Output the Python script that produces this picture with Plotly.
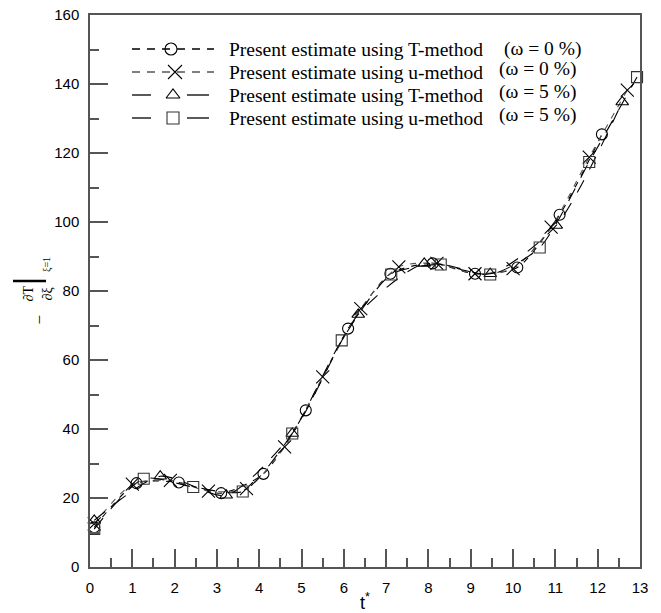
import plotly.graph_objects as go

# ---------------- data ----------------
t_T0 = [0.1, 1.1, 2.1, 3.1, 4.1, 5.1, 6.1, 7.1, 8.1, 9.1, 10.1, 11.1, 12.1]
v_T0 = [11.5, 24.3, 24.5, 21.4, 27.0, 45.4, 69.1, 85.0, 88.0, 85.0, 86.8, 102.1, 125.4]

t_u0 = [0.1, 1.0, 1.9, 2.8, 3.7, 4.6, 5.5, 6.4, 7.3, 8.2, 9.1, 10.0, 10.9, 11.8, 12.7]
v_u0 = [12.5, 24.0, 25.1, 22.0, 22.7, 34.8, 55.1, 74.9, 87.0, 88.0, 85.0, 86.5, 98.5, 118.8, 138.2]

t_T5 = [0.1, 1.66, 3.22, 4.78, 6.34, 7.9, 9.46, 11.02, 12.58]
v_T5 = [13.5, 26.3, 20.8, 38.7, 73.2, 88.0, 85.0, 99.0, 134.8]

t_u5 = [0.1, 1.27, 2.44, 3.61, 4.78, 5.95, 7.12, 8.29, 9.46, 10.63, 11.8, 12.93]
v_u5 = [11.0, 25.6, 23.2, 21.9, 38.7, 65.7, 84.8, 87.7, 84.8, 92.6, 117.4, 142.0]

legend_main = ["Present estimate using T-method", "Present estimate using u-method",
               "Present estimate using T-method", "Present estimate using u-method"]
legend_omega = ["(ω = 0 %)", "(ω = 0 %)", "(ω = 5 %)", "(ω = 5 %)"]

x_ticks = list(range(0, 14))
y_ticks = list(range(0, 161, 20))

# ---------------- layout geometry (pixels) ----------------
W, H = 661, 613
L, R, T, B = 90, 21, 15, 46
PW, PH = W - L - R, H - T - B


def px(xp):
    return (xp - L) / PW


def py(yp):
    return (H - B - yp) / PH


serif = "Liberation Serif, Times New Roman, serif"
sans = "Liberation Sans, Arial, sans-serif"

series = [
    dict(t=t_T0, v=v_T0, sym="circle-open", size=11, color="black", lc="black", dash="6px,7px"),
    dict(t=t_u0, v=v_u0, sym="x-thin-open", size=13, color="black", lc="#555555", dash="6px,7px"),
    dict(t=t_T5, v=v_T5, sym="triangle-up-open", size=11, color="black", lc="black", dash="14px,12px"),
    dict(t=t_u5, v=v_u5, sym="square-open", size=11, color="#333333", lc="black", dash="14px,12px"),
]

fig = go.Figure()
for s in series:
    fig.add_trace(go.Scatter(
        x=s["t"], y=s["v"], mode="lines+markers",
        line=dict(color=s["lc"], width=1.1, dash=s["dash"], shape="spline", smoothing=0.7),
        marker=dict(symbol=s["sym"], size=s["size"], color=s["color"],
                    line=dict(width=1.1, color=s["color"])),
        showlegend=False, cliponaxis=False,
    ))

# ---------------- custom legend (pixel overlay axes) ----------------
rows_y = [49, 72, 95, 118]
mark_x = [171, 175, 173, 173]
shapes = []
for i, s in enumerate(series):
    y = rows_y[i]
    if i < 2:
        shapes.append(dict(type="line", xref="x2", yref="y2", x0=132, x1=214, y0=y, y1=y,
                           line=dict(color=s["lc"], width=1.3, dash="8px,7px")))
    else:
        shapes.append(dict(type="line", xref="x2", yref="y2", x0=132, x1=151, y0=y, y1=y,
                           line=dict(color="black", width=1.3)))
        shapes.append(dict(type="line", xref="x2", yref="y2", x0=187, x1=209, y0=y, y1=y,
                           line=dict(color="black", width=1.3)))
    fig.add_trace(go.Scatter(
        x=[mark_x[i]], y=[y], xaxis="x2", yaxis="y2", mode="markers",
        marker=dict(symbol=s["sym"], size=s["size"] + 1, color=s["color"],
                    line=dict(width=1.1, color=s["color"])),
        showlegend=False, hoverinfo="skip",
    ))

annotations = []
for i in range(4):
    y = rows_y[i]
    annotations.append(dict(xref="x2", yref="y2", x=227, y=y, text=legend_main[i],
                            showarrow=False, xanchor="left", yanchor="middle",
                            font=dict(family=serif, size=19.5, color="black")))
    ox, oy = (502, y) if i == 0 else (497, y - 3)
    annotations.append(dict(xref="x2", yref="y2", x=ox, y=oy, text=legend_omega[i],
                            showarrow=False, xanchor="left", yanchor="middle",
                            font=dict(family=serif, size=19.5, color="black")))

# ---------------- y-axis label pieces ----------------
annotations += [
    dict(xref="paper", yref="paper", x=px(27), y=py(320), text="−", textangle=-90,
         showarrow=False, font=dict(family=serif, size=17, color="black")),
    dict(xref="paper", yref="paper", x=px(18), y=py(294), text="∂T", textangle=-90,
         showarrow=False, font=dict(family=serif, size=14, color="black")),
    dict(xref="paper", yref="paper", x=px(37), y=py(294), text="∂ξ", textangle=-90,
         showarrow=False, font=dict(family=serif, size=14, color="black")),
    dict(xref="paper", yref="paper", x=px(39), y=py(265), text="ξ=1", textangle=-90,
         showarrow=False, font=dict(family=serif, size=10, color="black")),
]
shapes.append(dict(type="line", xref="paper", yref="paper", x0=px(13), x1=px(46),
                   y0=py(281), y1=py(281), line=dict(color="black", width=2.5)))

axis_common = dict(
    showline=True, linecolor="#555555", linewidth=1.5, mirror=True,
    ticks="inside", ticklen=18, tickwidth=1.5, tickcolor="#555555",
    showgrid=False, zeroline=False, automargin=False,
    tickfont=dict(family=sans, size=15, color="black"),
)

fig.update_layout(
    width=W, height=H,
    margin=dict(l=L, r=R, t=T, b=B, pad=0, autoexpand=False),
    paper_bgcolor="white", plot_bgcolor="white",
    xaxis=dict(range=[0, 13], tickvals=x_ticks, ticklabelstandoff=6,
               minor=dict(ticks="inside", ticklen=9, tickwidth=1.5, tickcolor="#555555", dtick=0.5),
               title=dict(text="t<sup>*</sup>", font=dict(family=sans, size=18, color="black"),
                          standoff=2),
               **axis_common),
    yaxis=dict(range=[0, 160], tickvals=y_ticks, ticklabelstandoff=6,
               minor=dict(ticks="inside", ticklen=9, tickwidth=1.5, tickcolor="#555555", dtick=10),
               **axis_common),
    xaxis2=dict(range=[L, W - R], overlaying="x", visible=False, fixedrange=True),
    yaxis2=dict(range=[H - B, T], overlaying="y", visible=False, fixedrange=True),
    shapes=shapes,
    annotations=annotations,
    showlegend=False,
)

fig.write_html("out.html")
